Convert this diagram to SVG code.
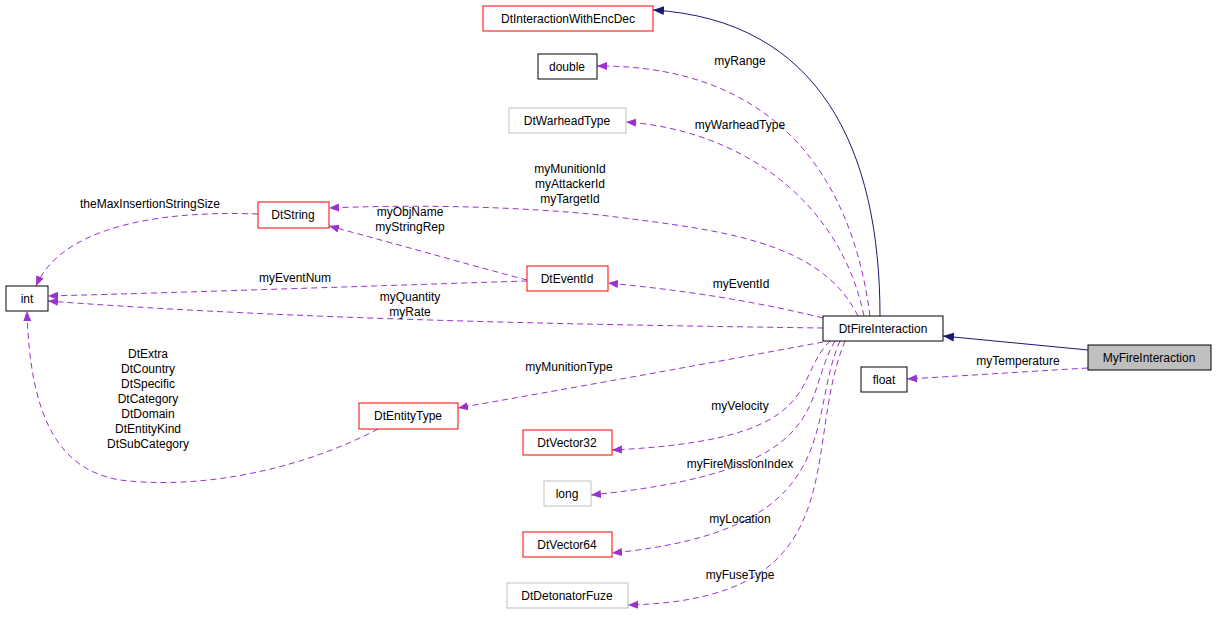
<svg xmlns="http://www.w3.org/2000/svg" width="1216" height="623" viewBox="0 0 1216 623">
<style>
text{font-family:"Liberation Sans",Arial,sans-serif;font-size:12px;fill:#000}
.n rect{fill:#fff;stroke:#000;stroke-width:1}
.r rect{stroke:#f00}
.g rect{stroke:#bfbfbf}
.nt{text-anchor:middle}
.d{fill:none;stroke:#9a32cd;stroke-dasharray:6,4;stroke-width:1}
.s{fill:none;stroke:#191970;stroke-width:1}
</style>
<defs>
<marker id="pa" viewBox="0 0 10 10" refX="10" refY="5" markerWidth="10" markerHeight="10" orient="auto" markerUnits="userSpaceOnUse"><path d="M0,1L10,5L0,9z" fill="#9a32cd"/></marker>
<marker id="na" viewBox="0 0 10 10" refX="10" refY="5" markerWidth="11" markerHeight="11" orient="auto" markerUnits="userSpaceOnUse"><path d="M0,1L10,5L0,9z" fill="#191970"/></marker>
</defs>
<g id="connectors">
<path class="s" d="M1088,350 L943,336" marker-end="url(#na)"/>
<path class="s" d="M880,316 C880,150 820,20 653,10" marker-end="url(#na)"/>
<path class="d" d="M1088,368 C1020,372 960,376 907,379" marker-end="url(#pa)"/>
<path class="d" d="M870,316 C850,160 760,65 597,66" marker-end="url(#pa)"/>
<path class="d" d="M864,316 C840,200 740,130 626,122" marker-end="url(#pa)"/>
<path class="d" d="M858,316 C820,240 720,230 600,215 C500,205 400,205 329,208" marker-end="url(#pa)"/>
<path class="d" d="M823,318 C750,300 680,290 608,283" marker-end="url(#pa)"/>
<path class="d" d="M823,328 C600,325 300,320 48,301" marker-end="url(#pa)"/>
<path class="d" d="M823,342 C700,365 560,390 458,408" marker-end="url(#pa)"/>
<path class="d" d="M830,341 C790,380 830,440 612,450" marker-end="url(#pa)"/>
<path class="d" d="M835,341 C800,400 840,470 591,495" marker-end="url(#pa)"/>
<path class="d" d="M840,341 C805,420 850,530 612,553" marker-end="url(#pa)"/>
<path class="d" d="M845,341 C800,450 860,600 628,605" marker-end="url(#pa)"/>
<path class="d" d="M258,214 C150,210 60,230 36,286" marker-end="url(#pa)"/>
<path class="d" d="M527,280 C470,265 400,245 329,226" marker-end="url(#pa)"/>
<path class="d" d="M527,281 C400,285 200,292 48,296" marker-end="url(#pa)"/>
<path class="d" d="M378,429 C300,470 200,490 120,480 C60,470 30,420 27,311" marker-end="url(#pa)"/>
<text x="740" y="65" class="nt">myRange</text>
<text x="740" y="129" class="nt">myWarheadType</text>
<text x="570" y="173" class="nt">myMunitionId</text>
<text x="570" y="188" class="nt">myAttackerId</text>
<text x="570" y="203" class="nt">myTargetId</text>
<text x="150" y="208" class="nt">theMaxInsertionStringSize</text>
<text x="410" y="216" class="nt">myObjName</text>
<text x="410" y="231" class="nt">myStringRep</text>
<text x="295" y="282" class="nt">myEventNum</text>
<text x="741" y="288" class="nt">myEventId</text>
<text x="410" y="301" class="nt">myQuantity</text>
<text x="410" y="316" class="nt">myRate</text>
<text x="569" y="371" class="nt">myMunitionType</text>
<text x="1018" y="365" class="nt">myTemperature</text>
<text x="148" y="358" class="nt">DtExtra</text>
<text x="148" y="373" class="nt">DtCountry</text>
<text x="148" y="388" class="nt">DtSpecific</text>
<text x="148" y="403" class="nt">DtCategory</text>
<text x="148" y="418" class="nt">DtDomain</text>
<text x="148" y="433" class="nt">DtEntityKind</text>
<text x="148" y="448" class="nt">DtSubCategory</text>
<text x="740" y="410" class="nt">myVelocity</text>
<text x="740" y="468" class="nt">myFireMissionIndex</text>
<text x="740" y="523" class="nt">myLocation</text>
<text x="740" y="579" class="nt">myFuseType</text>
</g>
<g id="DtInteractionWithEncDec" class="n r"><rect x="483" y="6" width="170" height="25"/><text x="568" y="23" class="nt">DtInteractionWithEncDec</text></g>
<g id="double" class="n"><rect x="538" y="54" width="59" height="25"/><text x="567" y="71" class="nt">double</text></g>
<g id="DtWarheadType" class="n g"><rect x="509" y="108" width="117" height="25"/><text x="567" y="125" class="nt">DtWarheadType</text></g>
<g id="DtString" class="n r"><rect x="258" y="202" width="71" height="26"/><text x="293" y="219" class="nt">DtString</text></g>
<g id="int" class="n"><rect x="6" y="286" width="42" height="25"/><text x="27" y="303" class="nt">int</text></g>
<g id="DtEventId" class="n r"><rect x="527" y="266" width="81" height="25"/><text x="567" y="283" class="nt">DtEventId</text></g>
<g id="DtFireInteraction" class="n"><rect x="823" y="316" width="120" height="25"/><text x="883" y="333" class="nt">DtFireInteraction</text></g>
<g id="MyFireInteraction" class="n"><rect x="1088" y="345" width="123" height="25" style="fill:#bfbfbf"/><text x="1149" y="362" class="nt">MyFireInteraction</text></g>
<g id="float" class="n"><rect x="861" y="367" width="46" height="25"/><text x="884" y="384" class="nt">float</text></g>
<g id="DtEntityType" class="n r"><rect x="359" y="403" width="99" height="26"/><text x="408" y="420" class="nt">DtEntityType</text></g>
<g id="DtVector32" class="n r"><rect x="523" y="430" width="89" height="25"/><text x="567" y="447" class="nt">DtVector32</text></g>
<g id="long" class="n g"><rect x="544" y="481" width="47" height="25"/><text x="567" y="498" class="nt">long</text></g>
<g id="DtVector64" class="n r"><rect x="523" y="532" width="89" height="25"/><text x="567" y="549" class="nt">DtVector64</text></g>
<g id="DtDetonatorFuze" class="n g"><rect x="507" y="583" width="121" height="25"/><text x="567" y="600" class="nt">DtDetonatorFuze</text></g>
</svg>
